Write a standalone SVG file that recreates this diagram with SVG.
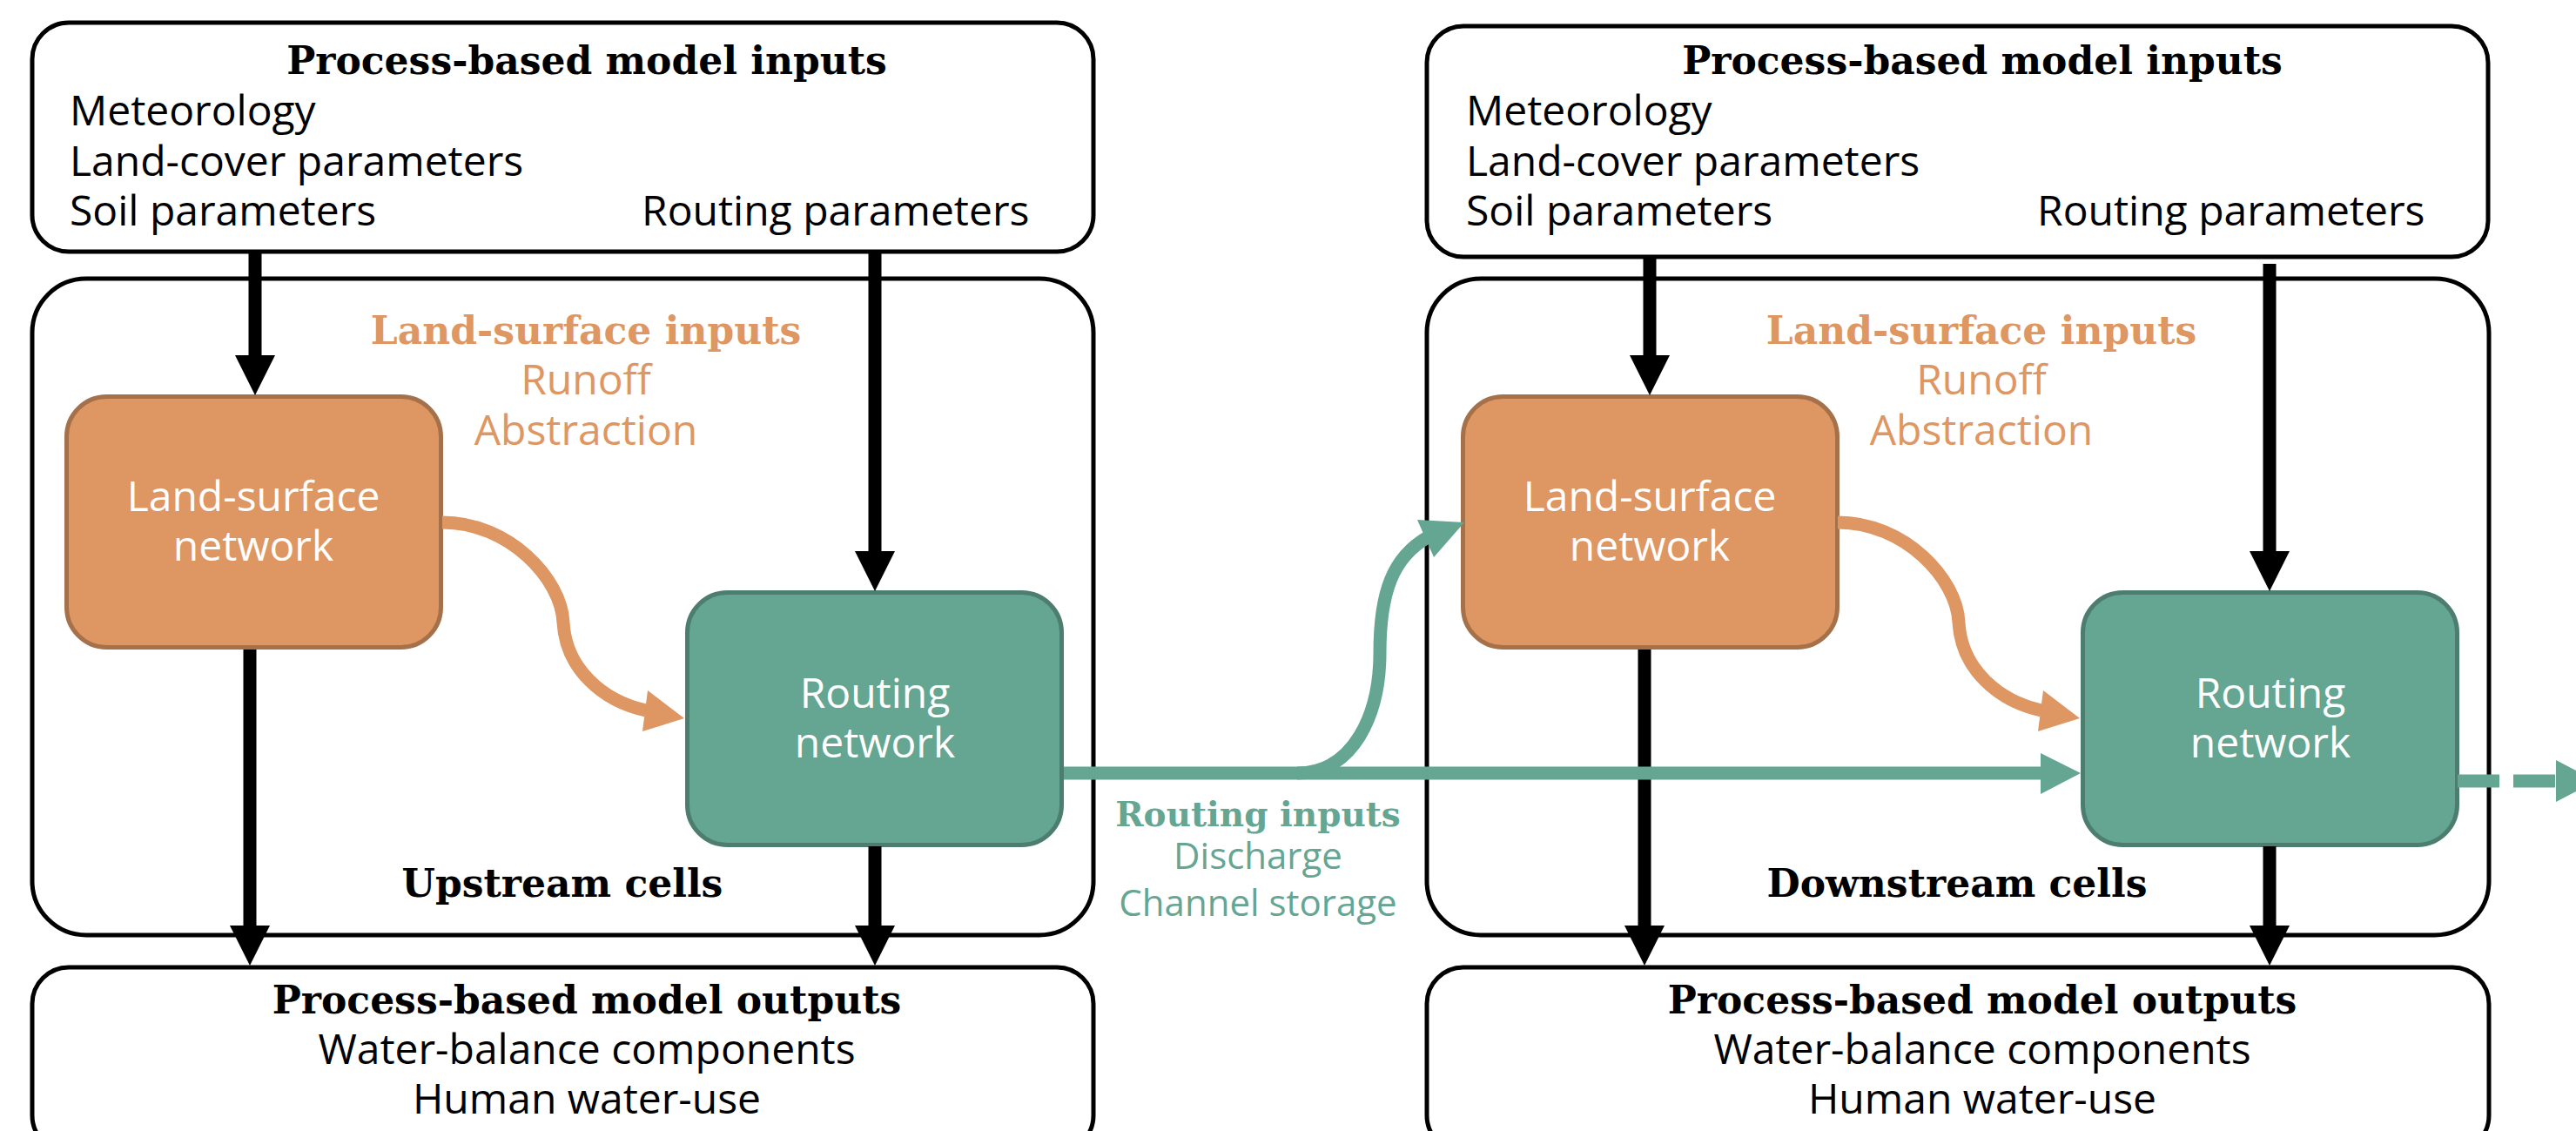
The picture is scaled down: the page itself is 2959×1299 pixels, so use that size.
<svg xmlns="http://www.w3.org/2000/svg" width="2959" height="1299" viewBox="0 0 2959 1299">
  <style>
    .frame { fill: #ffffff; stroke: #000000; stroke-width: 5; }
    .lsn { fill: #DE9662; stroke: #A5714A; stroke-width: 5; }
    .rn { fill: #64A692; stroke: #4D7D6E; stroke-width: 5; }
    .head { font-family: "DejaVu Serif", "Liberation Serif", serif; font-weight: bold; font-size: 44px; text-anchor: middle; }
    .body { font-family: "Open Sans", "Liberation Sans", sans-serif; font-size: 48px; }
    .mid { text-anchor: middle; }
    .ink { fill: #000000; }
    .white { fill: #ffffff; }
    .orange { fill: #DE9662; }
    .green { fill: #64A692; }
    .blk { stroke: #000000; stroke-width: 15; fill: none; }
    .org { stroke: #DE9662; stroke-width: 15; fill: none; }
    .grn { stroke: #64A692; stroke-width: 15; fill: none; }
  </style>
  <rect width="2959" height="1299" fill="#ffffff"/>

  <!-- Upstream column -->
  <g id="inputs-upstream">
    <rect class="frame" x="37" y="26" width="1219" height="263" rx="42"/>
    <text class="head ink" x="674" y="85">Process-based model inputs</text>
    <text class="body ink" x="80" y="144">Meteorology</text>
    <text class="body ink" x="80" y="202">Land-cover parameters</text>
    <text class="body ink" x="80" y="259">Soil parameters</text>
    <text class="body ink" x="737" y="259">Routing parameters</text>
  </g>
  <g id="cells-upstream">
    <rect class="frame" x="37" y="320" width="1219" height="754" rx="62"/>
    <text class="head ink" x="646" y="1030">Upstream cells</text>
  </g>
  <g id="landsurface-label-upstream">
    <text class="head orange" x="673" y="395">Land-surface inputs</text>
    <text class="body orange mid" x="673" y="453">Runoff</text>
    <text class="body orange mid" x="673" y="511">Abstraction</text>
  </g>
  <g id="lsn-upstream">
    <rect class="lsn" x="76.5" y="455.5" width="430" height="288" rx="46"/>
    <text class="body white mid" x="291" y="587">Land-surface</text>
    <text class="body white mid" x="291" y="644">network</text>
  </g>
  <g id="rn-upstream">
    <rect class="rn" x="789.5" y="680.5" width="430" height="290" rx="46"/>
    <text class="body white mid" x="1005" y="813">Routing</text>
    <text class="body white mid" x="1005" y="870">network</text>
  </g>
  <g id="outputs-upstream">
    <rect class="frame" x="37" y="1111" width="1219" height="212" rx="42"/>
    <text class="head ink" x="674" y="1164">Process-based model outputs</text>
    <text class="body ink mid" x="674" y="1222">Water-balance components</text>
    <text class="body ink mid" x="674" y="1279">Human water-use</text>
  </g>

  <!-- Downstream column -->
  <g id="inputs-downstream">
    <rect class="frame" x="1639" y="30" width="1219" height="265" rx="42"/>
    <text class="head ink" x="2277" y="85">Process-based model inputs</text>
    <text class="body ink" x="1684" y="144">Meteorology</text>
    <text class="body ink" x="1684" y="202">Land-cover parameters</text>
    <text class="body ink" x="1684" y="259">Soil parameters</text>
    <text class="body ink" x="2340" y="259">Routing parameters</text>
  </g>
  <g id="cells-downstream">
    <rect class="frame" x="1639" y="320" width="1220" height="754" rx="62"/>
    <text class="head ink" x="2248" y="1030">Downstream cells</text>
  </g>
  <g id="landsurface-label-downstream">
    <text class="head orange" x="2276" y="395">Land-surface inputs</text>
    <text class="body orange mid" x="2276" y="453">Runoff</text>
    <text class="body orange mid" x="2276" y="511">Abstraction</text>
  </g>
  <g id="lsn-downstream">
    <rect class="lsn" x="1680.5" y="455.5" width="430" height="288" rx="46"/>
    <text class="body white mid" x="1895" y="587">Land-surface</text>
    <text class="body white mid" x="1895" y="644">network</text>
  </g>
  <g id="rn-downstream">
    <rect class="rn" x="2392.5" y="680.5" width="430" height="290" rx="46"/>
    <text class="body white mid" x="2608" y="813">Routing</text>
    <text class="body white mid" x="2608" y="870">network</text>
  </g>
  <g id="outputs-downstream">
    <rect class="frame" x="1639" y="1111" width="1220" height="212" rx="42"/>
    <text class="head ink" x="2277" y="1164">Process-based model outputs</text>
    <text class="body ink mid" x="2277" y="1222">Water-balance components</text>
    <text class="body ink mid" x="2277" y="1279">Human water-use</text>
  </g>

  <!-- Routing inputs passed between the columns -->
  <g id="routing-inputs-label">
    <text class="head green" x="1445" y="949" style="font-size:39px">Routing inputs</text>
    <text class="body green mid" x="1445" y="998" style="font-size:42px">Discharge</text>
    <text class="body green mid" x="1445" y="1052" style="font-size:42px">Channel storage</text>
  </g>

  <g id="connectors">
    <!-- black model-input / output flows -->
    <line class="blk" x1="293" y1="289" x2="293" y2="410"/>
    <polygon points="270,408 316,408 293,454" fill="#000"/>
    <line class="blk" x1="1005" y1="289" x2="1005" y2="635"/>
    <polygon points="982,633 1028,633 1005,679" fill="#000"/>
    <line class="blk" x1="287" y1="746" x2="287" y2="1065"/>
    <polygon points="264,1063 310,1063 287,1109" fill="#000"/>
    <line class="blk" x1="1005" y1="972" x2="1005" y2="1065"/>
    <polygon points="982,1063 1028,1063 1005,1109" fill="#000"/>

    <line class="blk" x1="1895" y1="295" x2="1895" y2="410"/>
    <polygon points="1872,408 1918,408 1895,454" fill="#000"/>
    <line class="blk" x1="2607" y1="303" x2="2607" y2="635"/>
    <polygon points="2584,633 2630,633 2607,679" fill="#000"/>
    <line class="blk" x1="1889" y1="746" x2="1889" y2="1065"/>
    <polygon points="1866,1063 1912,1063 1889,1109" fill="#000"/>
    <line class="blk" x1="2607" y1="972" x2="2607" y2="1065"/>
    <polygon points="2584,1063 2630,1063 2607,1109" fill="#000"/>

    <!-- land-surface to routing (orange) -->
    <path class="org" d="M508 600 C585 600 645 665 647 715 C650 768 692 805 742 816"/>
    <polygon points="744,793 786,825 738,840" fill="#DE9662"/>
    <path class="org" d="M2111 600 C2188 600 2248 665 2250 715 C2253 768 2295 805 2345 816"/>
    <polygon points="2347,793 2389,825 2341,840" fill="#DE9662"/>

    <!-- routing outflow (green) -->
    <line class="grn" x1="1222" y1="888" x2="2346" y2="888"/>
    <polygon points="2344,865 2390,888 2344,912" fill="#64A692"/>
    <path class="grn" d="M1490 888 C1555 888 1585 820 1585 750 C1585 680 1600 640 1640 617"/>
    <polygon points="1628,597 1682,600 1647,640" fill="#64A692"/>
    <line class="grn" x1="2823" y1="897" x2="2937" y2="897" stroke-dasharray="48 16"/>
    <polygon points="2936,873 2982,897 2936,921" fill="#64A692"/>
  </g>
</svg>
